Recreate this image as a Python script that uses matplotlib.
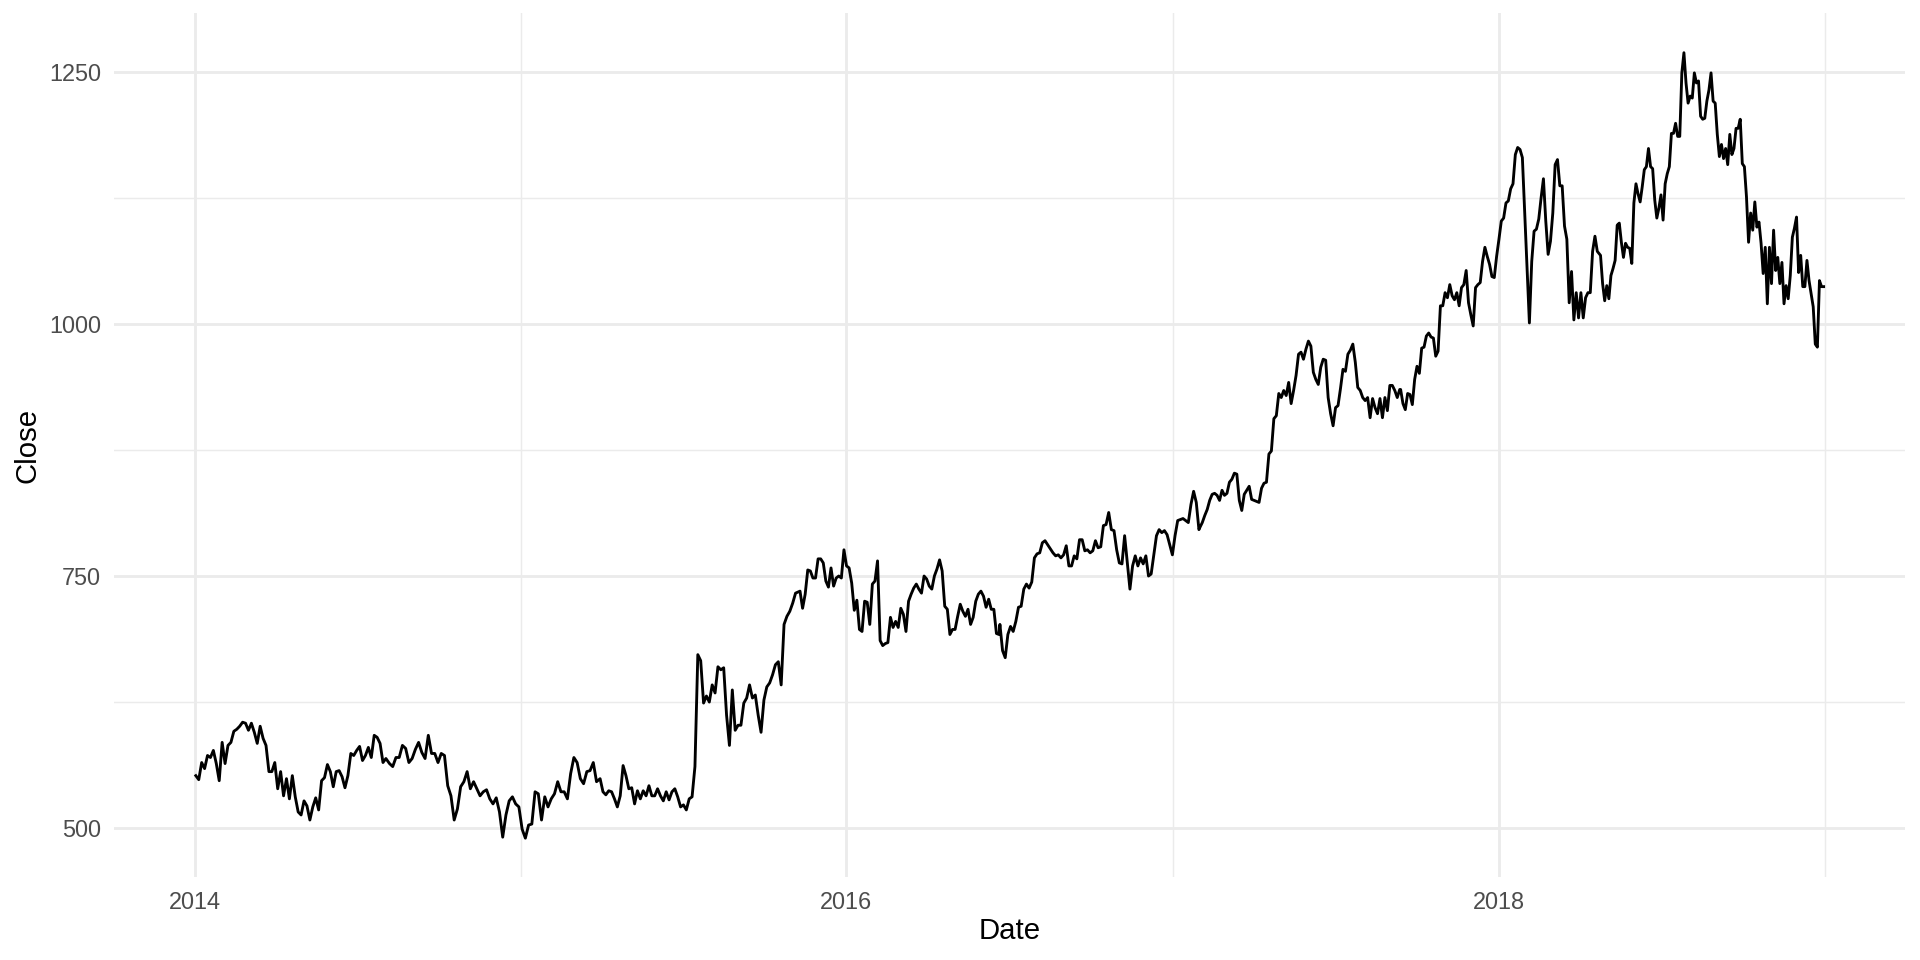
import matplotlib
matplotlib.use('Agg')
import matplotlib.dates as mdates
import matplotlib.pyplot as plt
import matplotlib.ticker as mticker
import pandas as pd

# closing prices, one stretch of a few months at a time
seg1_dates = ('2014-01-02', '2014-08-03')
seg1_close = [552, 548, 565, 559, 572, 570, 577, 564, 547, 585, 564, 582, 585, 596, 598, 601,
              605, 604, 597, 604, 595, 584, 601, 589, 582, 556, 556, 565, 539, 556, 532, 549,
              529, 552, 531, 516, 513, 527, 522, 508, 521, 530, 518, 547, 550, 563, 556, 541,
              556, 557, 551, 540, 552, 574, 572, 577, 581, 567, 572, 580, 570, 592, 590, 584,
              565, 569]

seg2_dates = ('2014-08-07', '2015-03-27')
seg2_close = [564, 561, 570, 570, 582, 579, 565, 569, 578, 585, 575, 569, 592, 574, 574, 565,
              574, 572, 542, 532, 508, 519, 541, 546, 556, 539, 546, 539, 532, 536, 538, 529,
              524, 530, 516, 491, 513, 527, 531, 524, 521, 499, 490, 503, 504, 536, 534, 508,
              531, 521, 529, 534, 546, 536, 536, 529, 554, 570, 565, 549, 544, 556, 557, 565,
              546]

seg3_dates = ('2015-03-31', '2015-11-05')
seg3_close = [549, 536, 533, 537, 536, 529, 521, 532, 562, 552, 539, 540, 524, 537, 529, 537,
              532, 542, 532, 532, 539, 532, 527, 536, 528, 536, 539, 531, 521, 523, 518, 529,
              531, 561, 672, 666, 624, 631, 625, 642, 634, 660, 657, 659, 612, 582, 637, 597,
              602, 602, 624, 629, 642, 629, 632, 612, 595, 627, 640, 644, 652, 662, 665, 642,
              702, 710, 715, 723, 733]

seg4_dates = ('2015-11-10', '2016-06-20')
seg4_close = [735, 718, 732, 756, 755, 748, 748, 767, 767, 763, 745, 739, 758, 740, 748, 750,
              748, 776, 760, 758, 743, 716, 726, 697, 695, 725, 724, 702, 742, 745, 765, 686,
              681, 683, 684, 709, 699, 705, 699, 718, 712, 695, 725, 732, 738, 742, 737, 733,
              750, 747, 740, 737, 750, 757, 766, 755, 720, 717, 692, 697, 697, 710, 722, 715,
              710, 717, 702, 709, 725, 732, 735, 730, 719, 727, 717, 717, 693, 692]

seg5_dates = ('2016-06-21', '2017-01-30')
seg5_close = [702, 676, 669, 692, 700, 695, 705, 719, 720, 737, 742, 738, 744, 768, 772, 773,
              783, 785, 781, 777, 773, 770, 771, 768, 771, 780, 760, 760, 770, 767, 786, 786,
              775, 776, 773, 775, 785, 778, 779, 800, 801, 813, 796, 795, 776, 763, 762, 790,
              763, 737, 760, 770, 760, 768, 762, 770, 750, 752, 771, 790, 796, 793, 795, 791,
              781, 771, 790, 805, 806, 807, 805, 803, 821, 834, 823, 796]

seg6_dates = ('2017-01-31', '2017-09-12')
seg6_close = [798, 803, 810, 816, 825, 831, 832, 830, 825, 835, 830, 832, 843, 846, 852, 851,
              825, 815, 831, 835, 839, 826, 825, 824, 823, 837, 842, 843, 871, 874, 906, 909,
              931, 927, 934, 929, 942, 921, 934, 949, 970, 972, 965, 975, 983, 978, 952, 945,
              940, 957, 965, 964, 927, 911, 899, 917, 919, 936, 955, 953, 970, 974, 980, 962,
              937, 934, 927, 924, 927, 907, 926, 917, 911, 926, 907, 927, 914, 939, 939, 934,
              927, 935]

seg7_dates = ('2017-09-13', '2018-04-24')
seg7_close = [935, 921, 915, 931, 930, 920, 945, 958, 951, 976, 977, 988, 991, 987, 986, 968,
              973, 1018, 1018, 1031, 1026, 1039, 1028, 1024, 1031, 1018, 1036, 1039, 1053, 1021,
              1009, 998, 1036, 1039, 1041, 1062, 1076, 1067, 1059, 1047, 1046, 1067, 1084, 1102,
              1105, 1120, 1122, 1134, 1139, 1168, 1175, 1173, 1165, 1110, 1056, 1001, 1062, 1092,
              1094, 1104, 1125, 1144, 1102, 1069, 1082, 1110, 1158, 1163, 1137, 1137, 1097, 1084,
              1021, 1052, 1004, 1031, 1006, 1031, 1006, 1026, 1031, 1031, 1072, 1087, 1072, 1069]

seg8_dates = ('2018-04-25', '2018-12-31')
seg8_close = [1068, 1040, 1023, 1038, 1025, 1048, 1055, 1063, 1098, 1100, 1081, 1066, 1080, 1076,
              1075, 1060, 1120, 1139, 1129, 1121, 1136, 1153, 1156, 1174, 1156, 1154, 1123, 1105,
              1115, 1128, 1103, 1139, 1149, 1156, 1189, 1189, 1199, 1186, 1186, 1249, 1269, 1239,
              1219, 1226, 1224, 1249, 1239, 1241, 1206, 1203, 1204, 1221, 1232, 1249, 1221, 1219,
              1188, 1166, 1178, 1164, 1174, 1158, 1188, 1168, 1174, 1194, 1194, 1203, 1159, 1156,
              1126, 1081, 1110, 1093, 1121, 1096, 1101, 1080, 1050, 1076, 1020, 1076, 1040, 1093,
              1053, 1066, 1040, 1061, 1020, 1038, 1025, 1048, 1086, 1095, 1106, 1051, 1068, 1037,
              1037, 1063, 1043, 1030, 1017, 980, 977, 1043, 1037, 1037]

segments = [
    (seg1_dates, seg1_close), (seg2_dates, seg2_close), (seg3_dates, seg3_close),
    (seg4_dates, seg4_close), (seg5_dates, seg5_close), (seg6_dates, seg6_close),
    (seg7_dates, seg7_close), (seg8_dates, seg8_close),
]

parts = []
for (start, end), close in segments:
    idx = pd.date_range(start, end, periods=len(close))
    parts.append(pd.Series(close, index=idx))
close = pd.concat(parts)

plt.rcParams['font.family'] = ['Liberation Sans', 'DejaVu Sans']

grid_col = '#EBEBEB'
text_col = '#4D4D4D'

fig, ax = plt.subplots(figsize=(10, 5))
fig.subplots_adjust(left=0.0596, right=0.9922, top=0.986, bottom=0.086)

ax.plot(close.index, close.values, color='black', lw=1.07)

ax.xaxis.set_major_locator(mdates.YearLocator(2))
ax.xaxis.set_minor_locator(mdates.YearLocator(1))
ax.xaxis.set_major_formatter(mdates.DateFormatter('%Y'))
ax.yaxis.set_major_locator(mticker.MultipleLocator(250))
ax.yaxis.set_minor_locator(mticker.MultipleLocator(125))

ax.grid(which='major', color=grid_col, lw=1.07)
ax.grid(which='minor', color=grid_col, lw=0.53)
ax.set_axisbelow(True)
for s in ax.spines.values():
    s.set_visible(False)

ax.tick_params(which='both', length=0, pad=4.95, labelsize=8.8, labelcolor=text_col)
ax.set_xlabel('Date', fontsize=11, labelpad=1.4)
ax.set_ylabel('Close', fontsize=11, labelpad=2.75)

fig.savefig('out.png', dpi=192)
